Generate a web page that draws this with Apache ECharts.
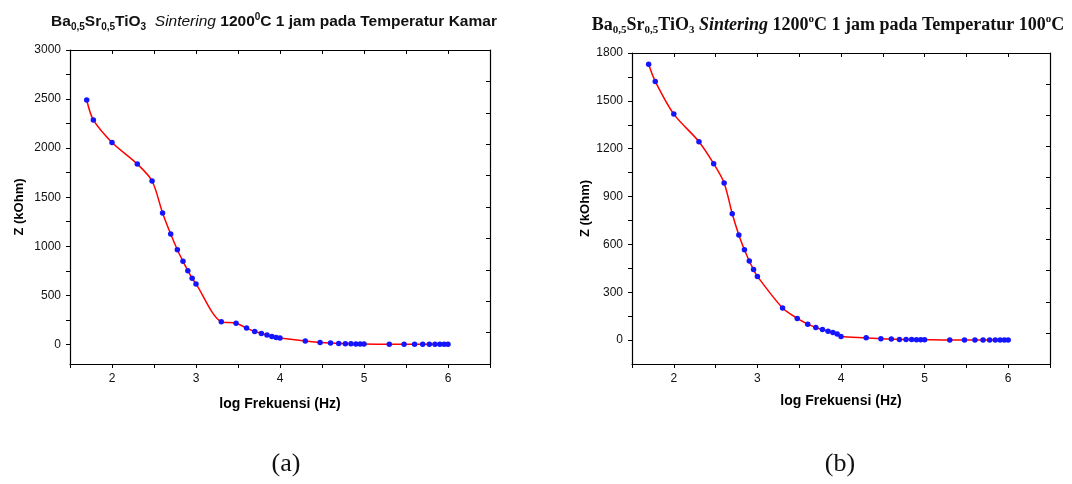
<!DOCTYPE html>
<html>
<head>
<meta charset="utf-8">
<script src="https://cdn.jsdelivr.net/npm/echarts@6/dist/echarts.min.js"></script>
<style>
html,body{margin:0;padding:0;background:#fff;}
#c{width:1072px;height:484px;}
</style>
</head>
<body>
<div id="c"></div>
<script>
// log10 of measurement frequency (Hz)
var logF = [1.699,1.778,2,2.301,2.477,2.602,2.699,2.778,2.845,2.903,2.954,3,
            3.301,3.477,3.602,3.699,3.778,3.845,3.903,3.954,4,
            4.301,4.477,4.602,4.699,4.778,4.845,4.903,4.954,5,
            5.301,5.477,5.602,5.699,5.778,5.845,5.903,5.954,6];
// Z (kOhm) at room temperature
var zKamar = [2490,2287,2058,1838,1665,1340,1124,964,846,751,673,616,
              230,216,166,132,112,95,81,71,64,
              34,20,13,10,7,6,4,3,3,
              1,1,1,0.5,0.5,0.5,0.5,0.5,0.5];
// Z (kOhm) at 100 C
var z100 = [1729,1622,1417,1244,1106,985,792,659,566,496,442,399,
            201,136,100,79,66,56,48,38,23,
            14,8,6,4,3,3,2.5,2.5,2,
            0,0,0,0,0,0,0,0,0];
var xLabels = [2,3,4,5,6];
var yLabelsA = [0,500,1000,1500,2000,2500,3000];
var yTicksA = [0,250,500,750,1000,1250,1500,1750,2000,2250,2500,2750,3000];
var yLabelsB = [0,300,600,900,1200,1500,1800];
var yTicksB = [0,150,300,450,600,750,900,1050,1200,1350,1500,1650,1800];

function pairs(xs, ys){ return xs.map(function(x,i){ return [x, ys[i]]; }); }

var SANS = '"Liberation Sans", Arial, sans-serif';
var SERIF = '"Liberation Serif", "Times New Roman", serif';
var black = '#000';

function bottomX(gi){
  return {
    type:'value', gridIndex:gi, position:'bottom', min:1.5, max:6.5, interval:0.5,
    axisLine:{show:true, onZero:false, lineStyle:{color:black, width:1.2}},
    axisTick:{show:true, length:4, lineStyle:{color:black}},
    axisLabel:{customValues:xLabels, color:'#111', fontSize:12, fontFamily:SANS, margin:9,
               formatter:function(v){ return String(v); }},
    splitLine:{show:false},
    name:'log Frekuensi (Hz)', nameLocation:'middle', nameGap:gi===0?33:30,
    nameTextStyle:{fontFamily:SANS, fontWeight:'bold', fontSize:14, color:black}
  };
}
function topX(gi){
  return {
    type:'value', gridIndex:gi, position:'top', min:1.5, max:6.5, interval:0.5,
    axisLine:{show:true, onZero:false, lineStyle:{color:black, width:1.2}},
    axisTick:{show:true, inside:true, length:4, lineStyle:{color:black}},
    axisLabel:{show:false}, splitLine:{show:false}
  };
}
function leftY(gi, min, max, labels, ticks){
  return {
    type:'value', gridIndex:gi, position:'left', min:min, max:max,
    axisLine:{show:true, onZero:false, lineStyle:{color:black, width:1.2}},
    axisTick:{show:true, length:4, customValues:ticks, lineStyle:{color:black}},
    axisLabel:{customValues:labels, color:'#111', fontSize:12, fontFamily:SANS, margin:9,
               formatter:function(v){ return String(v); }},
    splitLine:{show:false},
    name:'Z (kOhm)', nameLocation:'middle', nameGap:gi===0?44:34, nameRotate:90,
    nameTextStyle:{fontFamily:SANS, fontWeight:'bold', fontSize:13, color:black}
  };
}
function rightY(gi, min, max, interval){
  return {
    type:'value', gridIndex:gi, position:'right', min:min, max:max, interval:interval,
    axisLine:{show:true, onZero:false, lineStyle:{color:black, width:1.2}},
    axisTick:{show:true, inside:true, length:4, lineStyle:{color:black}},
    axisLabel:{show:false}, splitLine:{show:false}
  };
}
function lineSeries(xi, yi, data){
  return {
    type:'line', xAxisIndex:xi, yAxisIndex:yi, data:data,
    smooth:0.3,
    symbol:'circle', symbolSize:5.5,
    itemStyle:{color:'#1414ff'},
    lineStyle:{color:'#ff0000', width:1.5},
    z:3
  };
}

var chart = echarts.init(document.getElementById('c'), null, {renderer:'canvas'});
chart.setOption({
  animation:false,
  backgroundColor:'#fff',
  title:[
    {
      left:269, top:7, textAlign:'center',
      text:'{b|Ba}{s|0,5}{b|Sr}{s|0,5}{b|TiO}{s|3}{i|  Sintering }{b|1200}{p|0}{b|C 1 jam pada Temperatur Kamar}',
      textStyle:{
        rich:{
          b:{fontFamily:SANS, fontWeight:'bold', fontSize:15.5, color:'#111', lineHeight:20, verticalAlign:'middle'},
          i:{fontFamily:SANS, fontWeight:'normal', fontStyle:'italic', fontSize:15.5, color:'#111', lineHeight:20, verticalAlign:'middle'},
          s:{fontFamily:SANS, fontWeight:'bold', fontSize:10, color:'#111', lineHeight:10, verticalAlign:'bottom'},
          p:{fontFamily:SANS, fontWeight:'bold', fontSize:10, color:'#111', lineHeight:10, verticalAlign:'top'}
        }
      }
    },
    {
      left:823, top:9, textAlign:'center',
      text:'{b|Ba}{s|0,5}{b|Sr}{s|0,5}{b|TiO}{s|3}{i| Sintering}{b| 1200}{p|o}{b|C 1 jam pada Temperatur 100}{p|o}{b|C}',
      textStyle:{
        rich:{
          b:{fontFamily:SERIF, fontWeight:'bold', fontSize:18, color:'#111', lineHeight:22, verticalAlign:'middle'},
          i:{fontFamily:SERIF, fontWeight:'bold', fontStyle:'italic', fontSize:18, color:'#111', lineHeight:22, verticalAlign:'middle'},
          s:{fontFamily:SERIF, fontWeight:'bold', fontSize:11, color:'#111', lineHeight:11, verticalAlign:'bottom'},
          p:{fontFamily:SERIF, fontWeight:'bold', fontSize:11, color:'#111', lineHeight:11, verticalAlign:'top'}
        }
      }
    },
    {left:281, top:446, textAlign:'center', text:'(a)', textStyle:{fontFamily:SERIF, fontWeight:'normal', fontSize:26, color:'#111'}},
    {left:835, top:446, textAlign:'center', text:'(b)', textStyle:{fontFamily:SERIF, fontWeight:'normal', fontSize:26, color:'#111'}}
  ],
  grid:[
    {left:70, top:50, width:420, height:314},
    {left:632, top:53, width:418, height:311}
  ],
  xAxis:[bottomX(0), topX(0), bottomX(1), topX(1)],
  yAxis:[
    leftY(0, -200, 3000, yLabelsA, yTicksA),
    rightY(0, -200, 3000, 320),
    leftY(1, -150, 1800, yLabelsB, yTicksB),
    rightY(1, -150, 1800, 195)
  ],
  series:[
    lineSeries(0, 0, pairs(logF, zKamar)),
    lineSeries(2, 2, pairs(logF, z100))
  ]
});
</script>
</body>
</html>
